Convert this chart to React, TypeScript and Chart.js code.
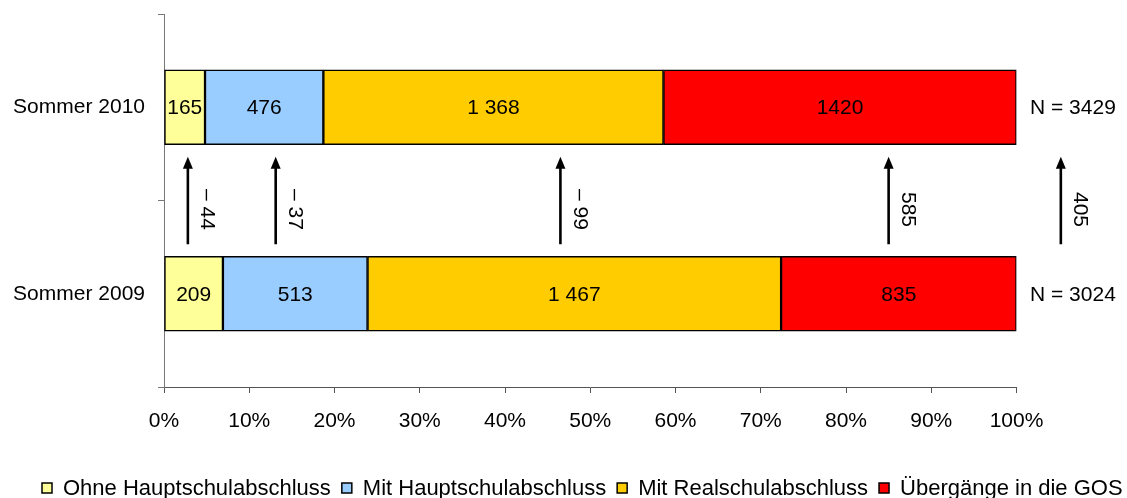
import React, { useEffect, useRef } from "react";
import { Chart, registerables } from "chart.js";

Chart.register(...registerables);

// Categories (top to bottom)
const years = ["Sommer 2010", "Sommer 2009"];

// Series names
const seriesNames = [
  "Ohne Hauptschulabschluss",
  "Mit Hauptschulabschluss",
  "Mit Realschulabschluss",
  "Übergänge in die GOS",
];

// Counts per category [2010, 2009]
const ohneHauptschulabschluss = [165, 209];
const mitHauptschulabschluss = [476, 513];
const mitRealschulabschluss = [1368, 1467];
const uebergaengeGOS = [1420, 835];

// Printed value labels per category [2010, 2009]
const labelsOhneHS = ["165", "209"];
const labelsMitHS = ["476", "513"];
const labelsMitRS = ["1 368", "1 467"];
const labelsGOS = ["1420", "835"];

// Percentage axis ticks
const xTickValues = [0, 10, 20, 30, 40, 50, 60, 70, 80, 90, 100];

// Where the change arrows sit on the percentage axis (per series, then total)
const arrowAxisPositions = [2.8, 13.1, 46.5, 85.0, 105.2];

const seriesColors = ["#FFFF99", "#99CCFF", "#FFCC00", "#FF0000"];

const FONT = "'Liberation Sans', Arial, sans-serif";

export default function App() {
  const canvasRef = useRef<HTMLCanvasElement | null>(null);

  useEffect(() => {
    const canvas = canvasRef.current;
    if (!canvas) return;

    const counts = [ohneHauptschulabschluss, mitHauptschulabschluss, mitRealschulabschluss, uebergaengeGOS];
    const valueLabels = [labelsOhneHS, labelsMitHS, labelsMitRS, labelsGOS];
    const totals = years.map((_, i) => counts.reduce((s, arr) => s + arr[i], 0));

    // change 2009 -> 2010 per series and for the total
    const diffs = [...counts.map((arr) => arr[0] - arr[1]), totals[0] - totals[1]];
    const diffText = (d: number) => (d < 0 ? "\u2013 " + Math.abs(d) : String(d));

    const datasets = counts.map((arr, s) => ({
      label: seriesNames[s],
      data: arr.map((v, i) => (v / totals[i]) * 100),
      backgroundColor: seriesColors[s],
      borderColor: "#000000",
      borderWidth: 1.5,
      borderSkipped: false as const,
      barThickness: 75,
    }));

    const annotations = {
      id: "annotations",
      afterDatasetsDraw(chart: any) {
        const ctx = chart.ctx as CanvasRenderingContext2D;
        ctx.save();
        ctx.fillStyle = "#000";
        ctx.font = `21px ${FONT}`;
        ctx.textAlign = "center";
        ctx.textBaseline = "middle";

        // values inside the segments
        chart.data.datasets.forEach((_: any, s: number) => {
          const meta = chart.getDatasetMeta(s);
          meta.data.forEach((el: any, i: number) => {
            const p = el.getProps(["x", "y", "base"], true);
            ctx.fillText(valueLabels[s][i], (p.x + p.base) / 2, p.y + 1);
          });
        });

        // totals to the right of each bar
        const lastMeta = chart.getDatasetMeta(chart.data.datasets.length - 1);
        ctx.textAlign = "left";
        lastMeta.data.forEach((el: any, i: number) => {
          const p = el.getProps(["x", "y"], true);
          ctx.fillText("N = " + totals[i], p.x + 13.5, p.y + 1);
        });

        // change arrows between the two bars
        const topEl = chart.getDatasetMeta(0).data[0].getProps(["y", "height"], true);
        const botEl = chart.getDatasetMeta(0).data[1].getProps(["y", "height"], true);
        const tipY = topEl.y + topEl.height / 2 + 12;
        const tailY = botEl.y - botEl.height / 2 - 12;
        const midY = (tipY + tailY) / 2;
        const xScale = chart.scales.x;
        arrowAxisPositions.forEach((pos, k) => {
          const ax = xScale.getPixelForValue(pos);
          ctx.strokeStyle = "#000";
          ctx.lineWidth = 2.6;
          ctx.beginPath();
          ctx.moveTo(ax, tailY);
          ctx.lineTo(ax, tipY + 10);
          ctx.stroke();
          ctx.beginPath();
          ctx.moveTo(ax, tipY);
          ctx.lineTo(ax - 5, tipY + 12);
          ctx.lineTo(ax + 5, tipY + 12);
          ctx.closePath();
          ctx.fill();

          ctx.save();
          ctx.translate(ax + 19, midY + 9);
          ctx.rotate(Math.PI / 2);
          ctx.textAlign = "center";
          ctx.textBaseline = "middle";
          ctx.fillText(diffText(diffs[k]), 0, 0);
          ctx.restore();
        });

        // legend row
        ctx.font = `22px ${FONT}`;
        ctx.textAlign = "left";
        ctx.textBaseline = "middle";
        let lx = 42;
        const ly = 488;
        seriesNames.forEach((name, s) => {
          ctx.fillStyle = seriesColors[s];
          ctx.fillRect(lx, ly - 5, 10, 10);
          ctx.strokeStyle = "#000";
          ctx.lineWidth = 1.5;
          ctx.strokeRect(lx, ly - 5, 10, 10);
          ctx.fillStyle = "#000";
          ctx.fillText(name, lx + 21, ly + 1);
          lx += 21 + ctx.measureText(name).width + 11;
        });
        ctx.restore();
      },
    };

    const chart = new Chart(canvas, {
      type: "bar",
      data: { labels: years, datasets },
      options: {
        indexAxis: "y",
        responsive: false,
        animation: false,
        devicePixelRatio: 1,
        layout: { padding: { top: 14, right: 110.5, left: 0, bottom: 0 } },
        plugins: {
          legend: { display: false },
          tooltip: { enabled: false },
        },
        scales: {
          x: {
            stacked: true,
            min: 0,
            max: 100,
            afterBuildTicks: (scale: any) => {
              scale.ticks = xTickValues.map((v) => ({ value: v }));
            },
            ticks: {
              callback: (v: any) => v + "%",
              color: "#000",
              font: { family: FONT, size: 21 },
              padding: 16,
              maxRotation: 0,
              autoSkip: false,
            },
            grid: { drawOnChartArea: false, drawTicks: true, tickLength: 6, color: "#555" },
            border: { color: "#555", width: 1 },
            afterFit: (scale: any) => {
              scale.height = 111;
            },
          },
          y: {
            stacked: true,
            ticks: {
              color: "#000",
              font: { family: FONT, size: 21 },
              padding: 13,
            },
            grid: { drawOnChartArea: false, drawTicks: true, tickLength: 6, color: "#777", offset: true },
            border: { color: "#777", width: 1 },
            afterFit: (scale: any) => {
              scale.width = 164;
              scale.paddingTop = 0;
              scale.paddingBottom = 0;
            },
          },
        },
      },
      plugins: [annotations],
    });

    return () => chart.destroy();
  }, []);

  return (
    <div style={{ position: "absolute", left: 0, top: 0, width: 1127, height: 498, background: "#fff" }}>
      <canvas ref={canvasRef} width={1127} height={498} style={{ display: "block" }} />
    </div>
  );
}
